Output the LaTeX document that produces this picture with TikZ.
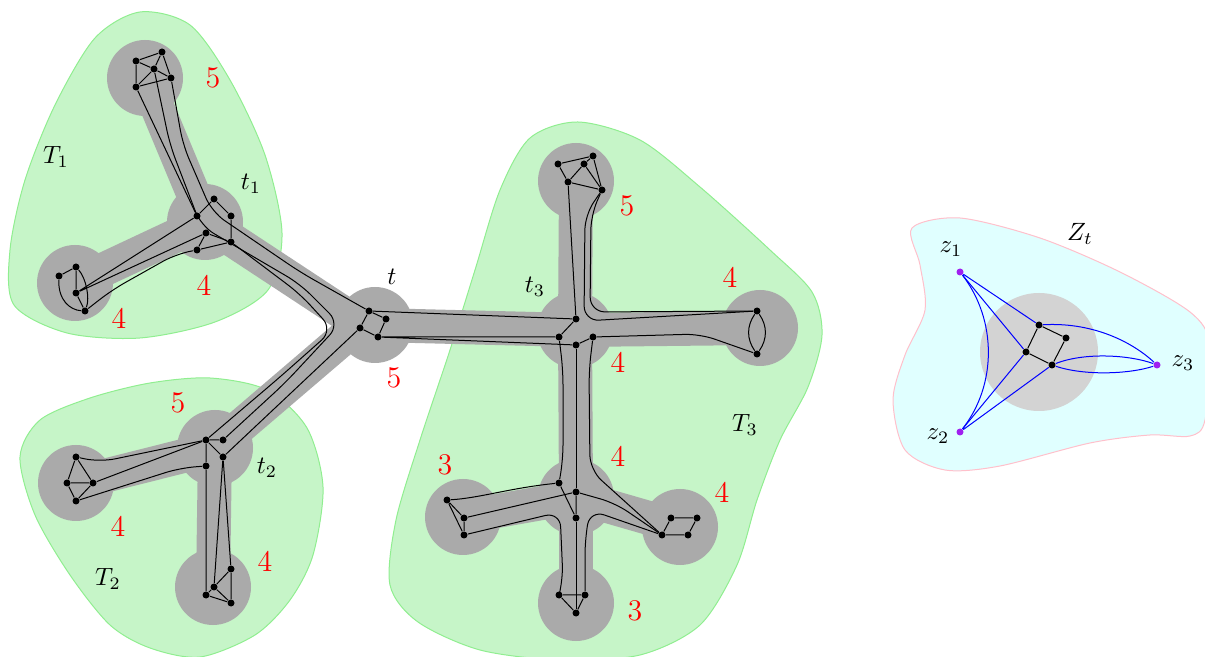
\documentclass[tikz,border=0pt]{standalone}
\definecolor{verde}{RGB}{198,245,200}
\definecolor{verdeb}{RGB}{144,238,144}
\definecolor{cinza}{RGB}{170,170,170}
\definecolor{cinzac}{RGB}{211,211,211}
\definecolor{ciano}{RGB}{224,255,255}
\definecolor{rosa}{RGB}{255,192,203}
\definecolor{roxo}{RGB}{160,32,240}
\begin{document}
\begin{tikzpicture}[x=0.4pt,y=-0.4pt, %Escala: 1 unidade = 1 pixel
	vert/.style={circle,fill=black,inner sep=0pt,minimum size=2.8pt},
	vz/.style={circle,fill=roxo,inner sep=0pt,minimum size=2.8pt},
	faixa/.style={draw=cinza,line width=13.6pt},
	saco/.style={fill=cinza},
	num/.style={red,font=\large},
	curva/.style={rounded corners=6pt}]
	\useasboundingbox (0,0) rectangle (1205,657);
		%Regioes
	\draw[draw=verdeb,fill=verde] plot[smooth cycle] coordinates {(140,12) (190,25) (230,80) (265,155) (282,233) (268,290) (215,322) (140,338) (67,333) (14,305) (10,250) (25,180) (55,105) (95,38)}; %T1
	\draw[draw=verdeb,fill=verde] plot[smooth cycle] coordinates {(20,457) (40,420) (90,398) (150,383) (210,378) (267,390) (307,428) (323,487) (313,555) (290,600) (255,635) (200,657) (150,648) (110,625) (70,575) (35,515)}; %T2
	\draw[draw=verdeb,fill=verde] plot[smooth cycle] coordinates {(578,122) (640,140) (700,187) (770,250) (812,292) (822,335) (808,387) (780,440) (757,500) (737,565) (700,625) (640,655) (560,660) (480,650) (418,622) (390,585) (396,520) (420,440) (450,350) (475,270) (500,190) (530,138)}; %T3
	\draw[draw=rosa,fill=ciano] plot[smooth cycle] coordinates {(912,228) (960,218) (1040,238) (1120,272) (1190,312) (1210,345) (1205,420) (1190,436) (1150,435) (1090,443) (1000,466) (945,470) (905,450) (893,400) (905,355) (925,310) (920,265)}; %Zt
		%Faixas
	\draw[faixa] (145,78) -- (205,222);
	\draw[faixa] (205,222) -- (75,283);
	\draw[faixa] (205,222) -- (360,324);
	\draw[faixa] (360,324) -- (215,448);
	\draw[faixa] (215,448) -- (76,483);
	\draw[faixa] (215,448) -- (213,587);
	\draw[faixa] (375,325) -- (575,330);
	\draw[faixa] (575,330) -- (576,181);
	\draw[faixa] (575,330) -- (760,328);
	\draw[faixa] (575,330) -- (576,497);
	\draw[faixa] (576,497) -- (463,517);
	\draw[faixa] (576,497) -- (680,527);
	\draw[faixa] (576,497) -- (576,603);
		%Sacos
	\foreach \c in {(145,78),(205,222),(75,283),(375,325),(215,448),(76,483),(213,587),(575,330),(576,181),(760,328),(576,497),(463,517),(680,527),(576,603)}
		\fill[saco] \c circle (15.2pt);
	\fill[cinzac] (1039,352) circle (23.6pt);
		%Vertices T1
	\node[vert] (a1) at (136,61) {}; \node[vert] (a2) at (162,52) {}; \node[vert] (a3) at (154,69) {};
	\node[vert] (a4) at (171,78) {}; \node[vert] (a5) at (136,87) {};
	\node[vert] (h1) at (214,199) {}; \node[vert] (h2) at (197,216) {}; \node[vert] (h3) at (231,216) {};
	\node[vert] (h4) at (206,233) {}; \node[vert] (h5) at (231,242) {}; \node[vert] (h6) at (197,250) {};
	\node[vert] (b1) at (59,276) {}; \node[vert] (b2) at (76,267) {}; \node[vert] (b3) at (76,293) {};
	\node[vert] (b4) at (85,311) {};
		%Vertices t
	\node[vert] (r1) at (369,311) {}; \node[vert] (r2) at (386,319) {};
	\node[vert] (r3) at (360,328) {}; \node[vert] (r4) at (378,337) {};
		%Vertices T2
	\node[vert] (c1) at (206,440) {}; \node[vert] (c2) at (223,440) {};
	\node[vert] (c3) at (223,457) {}; \node[vert] (c4) at (206,466) {};
	\node[vert] (d1) at (76,457) {}; \node[vert] (d2) at (67,483) {};
	\node[vert] (d3) at (93,483) {}; \node[vert] (d4) at (76,501) {};
	\node[vert] (f1) at (231,569) {}; \node[vert] (f2) at (214,587) {};
	\node[vert] (f3) at (206,595) {}; \node[vert] (f4) at (231,603) {};
		%Vertices T3
	\node[vert] (s1) at (576,319) {}; \node[vert] (s2) at (559,337) {};
	\node[vert] (s3) at (576,345) {}; \node[vert] (s4) at (593,337) {};
	\node[vert] (u1) at (558,164) {}; \node[vert] (u2) at (593,156) {}; \node[vert] (u3) at (584,164) {};
	\node[vert] (u4) at (568,182) {}; \node[vert] (u5) at (602,190) {};
	\node[vert] (e1) at (757,311) {}; \node[vert] (e2) at (757,354) {};
	\node[vert] (g1) at (559,483) {}; \node[vert] (g2) at (576,492) {}; \node[vert] (g3) at (576,518) {};
	\node[vert] (l1) at (447,500) {}; \node[vert] (l2) at (464,518) {}; \node[vert] (l3) at (464,535) {};
	\node[vert] (k1) at (671,518) {}; \node[vert] (k2) at (697,518) {};
	\node[vert] (k3) at (662,535) {}; \node[vert] (k4) at (688,535) {};
	\node[vert] (m1) at (559,595) {}; \node[vert] (m2) at (585,595) {}; \node[vert] (m3) at (576,613) {};
		%Vertices Zt
	\node[vz] (z1) at (960,272) {}; \node[vz] (z2) at (960,432) {}; \node[vz] (z3) at (1157,365) {};
	\node[vert] (w1) at (1039,325) {}; \node[vert] (w2) at (1066,338) {};
	\node[vert] (w3) at (1026,352) {}; \node[vert] (w4) at (1052,365) {};
		%Arestas T1
	\draw (a1) -- (a2) (a1) -- (a3) (a1) -- (a5) (a2) -- (a3) (a2) -- (a4) (a3) -- (a4) (a3) -- (a5) (a5) -- (a4);
	\draw (h1) -- (h2) (h1) -- (h3) (h3) -- (h5) (h5) -- (h4) (h4) -- (h6) (h6) -- (h5);
	\draw (b1) -- (b2) (b2) -- (b3) (b3) -- (b4);
	\draw (b1) .. controls (58,300) and (70,310) .. (b4);
	\draw (b2) .. controls (86,278) and (90,298) .. (b4);
	\draw (a5) -- (h2);
	\draw (h2) -- (b3) (h4) -- (b3);
	\draw[curva] (h6) -- (176,254) -- (112,290) -- (b4);
	\draw[curva] (a4) -- (183,145) -- (212,212) -- (300,272) -- (r1);
	\draw[curva] (a3) -- (170,145) -- (201,226) -- (300,284) -- (340,324) -- (285,383) -- (c2);
	\draw[curva] (h5) -- (300,294) -- (333,330) -- (280,377) -- (c1);
		%Arestas t
	\draw (r1) -- (r2) (r2) -- (r4) (r4) -- (r3) (r3) -- (r1);
	\draw (r3) -- (c3);
	\draw (r1) -- (s1) (r4) -- (s2) (r4) -- (s3);
		%Arestas T2
	\draw (c1) -- (c2) (c1) -- (c3) (c1) -- (c4);
	\draw (d1) -- (d2) (d1) -- (d3) (d2) -- (d3) (d2) -- (d4) (d3) -- (d4);
	\draw (f1) -- (f2) (f1) -- (f4) (f2) -- (f4) (f3) -- (f2) (f3) -- (f4);
	\draw[curva] (d1) -- (100,462) -- (c1);
	\draw (d3) -- (c1);
	\draw[curva] (d4) -- (180,468) -- (c4);
	\draw (c4) -- (f3) (c3) -- (f2) (c3) -- (f1);
		%Arestas T3
	\draw (s1) -- (s2) (s3) -- (s4);
	\draw (u1) -- (u2) (u1) -- (u4) (u4) -- (u3) (u3) -- (u2) (u2) -- (u5) (u4) -- (u5) (u3) -- (u5);
	\draw (u4) -- (s1);
	\draw[curva] (u5) -- (591,215) -- (590,312) -- (e1);
	\draw[curva] (u5) -- (585,215) -- (584,321) -- (e1);
	\draw (e1) to[bend left=35] (e2);
	\draw (e1) to[bend right=35] (e2);
	\draw[curva] (s4) -- (700,334) -- (e2);
	\draw[curva] (s2) -- (563,370) -- (563,460) -- (g1);
	\draw (s3) -- (g2);
	\draw[curva] (s4) -- (589,370) -- (590,470) -- (k3);
	\draw (g1) -- (g3) (g2) -- (g3);
	\draw (l1) -- (l2) (l1) -- (l3) (l2) -- (l3);
	\draw (k1) -- (k2) (k2) -- (k4) (k4) -- (k3) (k3) -- (k1);
	\draw (m1) -- (m2) (m1) -- (m3) (m2) -- (m3);
	\draw (g1) .. controls (510,488) and (480,498) .. (l1);
	\draw (g2) -- (l2);
	\draw[curva] (l3) -- (560,512) -- (563,580) -- (m1);
	\draw[curva] (g2) -- (615,503) -- (k3);
	\draw[curva] (k3) -- (590,510) -- (585,540) -- (m2);
	\draw (g3) -- (m3);
		%Arestas Zt
	\draw (w1) -- (w2) (w2) -- (w4) (w4) -- (w3) (w3) -- (w1);
	\draw[blue] (z1) -- (w1) (z1) -- (w3) (z2) -- (w3) (z2) -- (w4);
	\draw[blue] (z1) .. controls (997,320) and (997,385) .. (z2);
	\draw[blue] (w1) .. controls (1090,322) and (1130,340) .. (z3);
	\draw[blue] (w4) .. controls (1085,352) and (1130,355) .. (z3);
	\draw[blue] (w4) .. controls (1085,376) and (1130,374) .. (z3);
		%Rotulos
	\node (lT1) at (56,157) {$T_1$};
	\node (lt1) at (251,184) {$t_1$};
	\node (lT2) at (108,579) {$T_2$};
	\node (lt2) at (267,468) {$t_2$};
	\node (lt) at (392,277) {$t$};
	\node (lt3) at (535,287) {$t_3$};
	\node (lT3) at (745,425) {$T_3$};
	\node (lZt) at (1080,234) {$Z_t$};
	\node (lz1) at (951,249) {$z_1$};
	\node (lz2) at (938,436) {$z_2$};
	\node (lz3) at (1183,363) {$z_3$};
		%Larguras
	\node[num] (n1) at (213,78) {5};
	\node[num] (n2) at (204,285) {4};
	\node[num] (n3) at (119,318) {4};
	\node[num] (n4) at (178,403) {5};
	\node[num] (n5) at (118,526) {4};
	\node[num] (n6) at (265,561) {4};
	\node[num] (n7) at (394,378) {5};
	\node[num] (n8) at (627,206) {5};
	\node[num] (n9) at (730,277) {4};
	\node[num] (n10) at (618,362) {4};
	\node[num] (n11) at (618,456) {4};
	\node[num] (n12) at (445,465) {3};
	\node[num] (n13) at (722,492) {4};
	\node[num] (n14) at (635,611) {3};
\end{tikzpicture}
\end{document}
